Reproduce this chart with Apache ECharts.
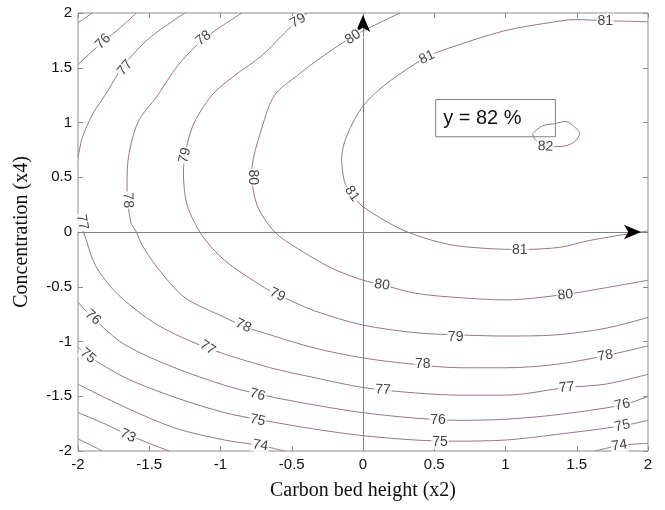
<!DOCTYPE html>
<html>
<head>
<meta charset="utf-8">
<script src="https://cdn.jsdelivr.net/npm/echarts@6/dist/echarts.min.js"></script>
<style>
  html, body { margin: 0; padding: 0; background: #fff; }
  #chart { width: 665px; height: 510px; }
</style>
</head>
<body>
<div id="chart"></div>
<script>
// axis ticks (coded factor levels)
const ticks = [-2, -1.5, -1, -0.5, 0, 0.5, 1, 1.5, 2];

// contour lines, [x2, x4]
const c72 = [[-2, -1.89], [-1.92, -1.94], [-1.83, -2]];
const c73 = [[-2, -1.65], [-1.85, -1.73], [-1.65, -1.85], [-1.5, -1.93], [-1.36, -2]];
const c74a = [[-2, -1.39], [-1.67, -1.6], [-1.32, -1.79], [-0.97, -1.9], [-0.72, -1.95], [-0.55, -2]];
const c74b = [[1.63, -2], [1.8, -1.95], [2, -1.93]];
const c75a = [[-2, 1.91], [-1.9, 2]];
const c75b = [[-2, -1.05], [-1.93, -1.13], [-1.67, -1.33], [-1.32, -1.51], [-0.97, -1.65], [-0.7, -1.72],
  [-0.34, -1.8], [0, -1.86], [0.37, -1.9], [0.65, -1.91], [1, -1.9], [1.35, -1.85], [1.82, -1.77], [2, -1.72]];
const c76a = [[-2, 1.53], [-1.9, 1.65], [-1.82, 1.74], [-1.7, 1.87], [-1.59, 2]];
const c76b = [[-2, -0.64], [-1.9, -0.78], [-1.67, -1.03], [-1.32, -1.24], [-0.97, -1.4], [-0.7, -1.49],
  [-0.34, -1.58], [0, -1.65], [0.37, -1.7], [0.68, -1.72], [1, -1.71], [1.35, -1.67], [1.82, -1.58], [2, -1.5]];
const c77a = [[-2, 0.68], [-1.97, 0.86], [-1.9, 1.07], [-1.81, 1.25], [-1.68, 1.52], [-1.5, 1.77], [-1.25, 2]];
const c77b = [[-2, 0.05], [-1.965, 0.01], [-1.88, -0.3], [-1.72, -0.57], [-1.44, -0.85], [-1.09, -1.06],
  [-0.65, -1.24], [-0.34, -1.33], [0, -1.42], [0.37, -1.47], [0.68, -1.49], [1, -1.49], [1.43, -1.42],
  [1.7, -1.39], [2, -1.3]];
const c78 = [[-0.85, 2], [-1.12, 1.76], [-1.3, 1.52], [-1.44, 1.25], [-1.58, 1.0], [-1.65, 0.64],
  [-1.656, 0.4], [-1.63, 0.09], [-1.59, 0], [-1.55, -0.12], [-1.44, -0.33], [-1.25, -0.6], [-0.97, -0.78],
  [-0.84, -0.86], [-0.65, -0.94], [-0.34, -1.06], [0, -1.15], [0.3, -1.2], [0.68, -1.24], [1, -1.24],
  [1.35, -1.21], [1.7, -1.13], [2, -1.04]];
const c79 = [[-0.39, 2], [-0.46, 1.93], [-0.58, 1.78], [-0.71, 1.61], [-0.9, 1.43], [-1.06, 1.25],
  [-1.2, 0.95], [-1.26, 0.55], [-1.235, 0.25], [-1.13, -0.03], [-0.97, -0.26], [-0.69, -0.51],
  [-0.6, -0.57], [-0.34, -0.72], [0, -0.85], [0.37, -0.92], [0.67, -0.94], [1, -0.95], [1.35, -0.94],
  [1.7, -0.88], [2, -0.78]];
const c80 = [[0.26, 2], [-0.08, 1.78], [-0.34, 1.55], [-0.46, 1.43], [-0.62, 1.25], [-0.71, 0.95],
  [-0.78, 0.55], [-0.745, 0.25], [-0.62, 0], [-0.46, -0.15], [-0.22, -0.33], [0, -0.44], [0.13, -0.48],
  [0.37, -0.56], [0.68, -0.6], [1, -0.62], [1.42, -0.57], [1.7, -0.51], [2, -0.44]];
const c81 = [[2, 1.92], [1.7, 1.93], [1.49, 1.94], [1.3, 1.91], [1, 1.84], [0.65, 1.7],
  [0.45, 1.6], [0.17, 1.36], [0, 1.15], [-0.11, 0.89], [-0.15, 0.68], [-0.13, 0.46], [-0.08, 0.35],
  [0, 0.23], [0.26, 0.03], [0.47, -0.07], [0.68, -0.13], [1.1, -0.16], [1.38, -0.14], [1.58, -0.08],
  [1.8, -0.03], [2, 0.01]];
const c82 = [[1.19, 0.9], [1.26, 0.97], [1.35, 0.99], [1.42, 1.01], [1.47, 0.975], [1.52, 0.9], [1.49, 0.83],
  [1.43, 0.79], [1.35, 0.78], [1.26, 0.81], [1.21, 0.84], [1.19, 0.9]];

const contours = [c72, c73, c74a, c74b, c75a, c75b, c76a, c76b, c77a, c77b, c78, c79, c80, c81, c82];

// inline contour labels [x2, x4, level]
const contourLabels = [
  [-1.825, 1.74, 76], [-1.67, 1.5, 77], [-1.12, 1.77, 78], [-0.456, 1.93, 79], [-0.07, 1.78, 80],
  [0.449, 1.595, 81], [1.7, 1.93, 81], [1.28, 0.78, 82], [-1.65, 0.29, 78], [-1.25, 0.7, 79],
  [-0.77, 0.5, 80], [-0.077, 0.35, 81], [-1.97, 0.09, 77], [-1.895, -0.78, 76], [-1.93, -1.13, 75],
  [-1.65, -1.86, 73], [-1.09, -1.057, 77], [-0.84, -0.857, 78], [-0.6, -0.574, 79], [0.133, -0.483, 80],
  [-0.74, -1.486, 76], [-0.74, -1.72, 75], [-0.72, -1.95, 74], [1.1, -0.164, 81], [1.42, -0.574, 80],
  [0.65, -0.957, 79], [0.42, -1.21, 78], [1.7, -1.13, 78], [0.14, -1.44, 77], [1.43, -1.42, 77],
  [0.526, -1.714, 76], [1.82, -1.577, 76], [0.54, -1.92, 75], [1.82, -1.77, 75], [1.8, -1.95, 74]
];
const labelAngles = [
  45, 50, 38, 30, 35,
  25, 0, -3, -88, 78,
  -90, -55, -80, -42, -40,
  -25, -33, -25, -25, -8,
  -15, -12, -10, 0, 5,
  0, 0, 10, -3, 5,
  0, 12, 0, 12, 8
];

const optimumBox = [[0.51, 1.21], [1.35, 0.87]];
const optimumText = 'y = 82 %';

const lineColor = '#a0708f';
const frameColor = '#8c8c8c';
const sans = 'Liberation Sans, Arial, sans-serif';
const serif = 'Liberation Serif, Times New Roman, serif';

const chart = echarts.init(document.getElementById('chart'));

const tickAxis = {
  type: 'value',
  min: ticks[0],
  max: ticks[ticks.length - 1],
  interval: 0.5,
  splitLine: { show: false },
  axisLine: { show: false, onZero: false },
  axisTick: { show: true, inside: true, length: 5, lineStyle: { color: frameColor } }
};

const series = contours.map(pts => ({
  type: 'line',
  data: pts,
  showSymbol: false,
  smooth: 0.3,
  silent: true,
  lineStyle: { color: lineColor, width: 1 },
  z: 2
}));

series.push({
  type: 'scatter',
  symbolSize: 1,
  itemStyle: { color: 'rgba(0,0,0,0)' },
  silent: true,
  z: 5,
  data: contourLabels.map((d, i) => ({ value: d, label: { rotate: labelAngles[i] } })),
  label: {
    show: true,
    position: 'inside',
    formatter: p => p.value[2],
    fontSize: 14,
    fontFamily: sans,
    color: '#111',
    backgroundColor: '#fff',
    padding: [0, 1]
  },
  markLine: {
    silent: true,
    symbol: 'none',
    animation: false,
    label: { show: false },
    lineStyle: { color: '#808080', width: 1, type: 'solid' },
    data: [
      [{ coord: [0, -2] }, { coord: [0, 2] }],
      [{ coord: [-2, 0] }, { coord: [2, 0] }]
    ]
  },
  markPoint: {
    silent: true,
    symbol: 'arrow',
    animation: false,
    itemStyle: { color: '#000' },
    label: { show: false },
    data: [
      { coord: [0, 2], symbolSize: [11, 17], symbolOffset: [0, 2] },
      { coord: [2, 0], symbolSize: [11, 17], symbolRotate: -90, symbolOffset: [-7, 0] }
    ]
  },
  markArea: {
    silent: true,
    itemStyle: { color: 'rgba(0,0,0,0)', borderColor: '#808080', borderWidth: 1 },
    label: { show: true, position: 'insideLeft', distance: 8, fontSize: 20, fontFamily: sans, color: '#111' },
    data: [[{ coord: optimumBox[0], name: optimumText }, { coord: optimumBox[1] }]]
  }
});

chart.setOption({
  animation: false,
  backgroundColor: '#fff',
  grid: { left: 78, right: 17, top: 13, bottom: 59, show: true, borderColor: frameColor, borderWidth: 1 },
  xAxis: [
    Object.assign({}, tickAxis, {
      position: 'bottom',
      name: 'Carbon bed height (x2)',
      nameLocation: 'middle',
      nameGap: 30,
      nameTextStyle: { fontSize: 20, fontFamily: serif, color: '#111' },
      axisLabel: { fontSize: 15, fontFamily: sans, color: '#111', margin: 6 }
    }),
    Object.assign({}, tickAxis, { position: 'top', axisLabel: { show: false } })
  ],
  yAxis: [
    Object.assign({}, tickAxis, {
      position: 'left',
      name: 'Concentration (x4)',
      nameLocation: 'middle',
      nameGap: 46,
      nameTextStyle: { fontSize: 20, fontFamily: serif, color: '#111' },
      axisLabel: { fontSize: 15, fontFamily: sans, color: '#111', margin: 6 }
    }),
    Object.assign({}, tickAxis, { position: 'right', axisLabel: { show: false } })
  ],
  series: series
});
</script>
</body>
</html>
